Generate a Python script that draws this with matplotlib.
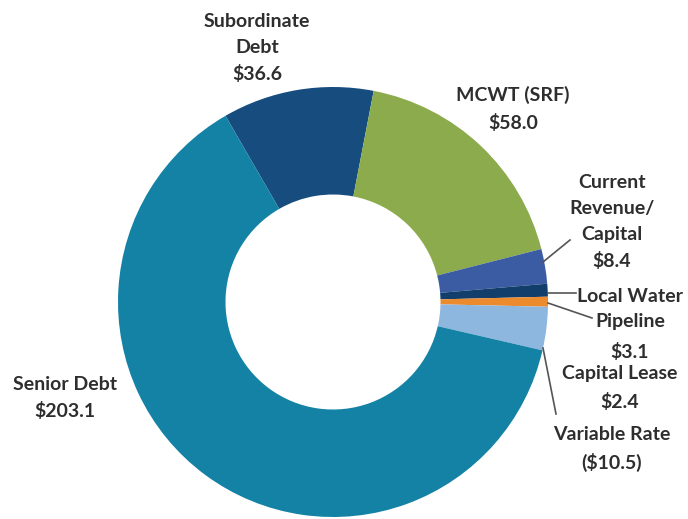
import matplotlib
matplotlib.use("Agg")
import matplotlib.pyplot as plt

# funding sources, $ millions (clockwise from the top)
sources = ["Subordinate Debt", "MCWT (SRF)", "Current Revenue/Capital",
           "Local Water Pipeline", "Capital Lease", "Variable Rate", "Senior Debt"]
amounts = [36.6, 58.0, 8.4, 3.1, 2.4, 10.5, 203.1]
colors = ["#164c7e", "#8cab4c", "#3b5ca3", "#123e6c", "#ec8a2e", "#8db7de", "#1382a5"]

W, H = 688, 519
INK = "#2e2e2e"
FONT = ["Lato", "DejaVu Sans"]

fig = plt.figure(figsize=(W / 100, H / 100), dpi=100, facecolor="white")
ax = fig.add_axes([0, 0, 1, 1])

cx, cy, r = 333, H - 302, 215
ax.pie(amounts, colors=colors, startangle=120, counterclock=False,
       center=(cx, cy), radius=r, frame=True,
       wedgeprops=dict(width=r * 0.5, linewidth=0))
ax.set_xlim(0, W)
ax.set_ylim(0, H)
ax.set_aspect("equal")
ax.axis("off")


def label(x, y, s, ls=1.62):
    ax.text(x, H - y, s, ha="center", va="center", fontsize=14,
            fontweight="bold", color=INK, family=FONT, linespacing=ls)


label(257, 48, "Subordinate\nDebt\n$36.6")
label(513, 109, "MCWT (SRF)\n$58.0")
label(612, 222, "Current\nRevenue/\nCapital\n$8.4")
label(630, 297, "Local Water")
label(630, 322, "Pipeline")
label(630, 352, "$3.1")
label(620, 374, "Capital Lease")
label(620, 402, "$2.4")
label(612, 449, "Variable Rate\n($10.5)")
label(65, 398, "Senior Debt\n$203.1")

# leader lines from the small slices to their labels
leaders = [((543, 262), (570, 240)),
           ((548, 293), (576, 293)),
           ((548, 303), (592, 318)),
           ((543, 348), (556, 414))]
for (x0, y0), (x1, y1) in leaders:
    ax.plot([x0, x1], [H - y0, H - y1], color="#555555", lw=1.2)

fig.savefig("out.png", dpi=100, facecolor="white")
